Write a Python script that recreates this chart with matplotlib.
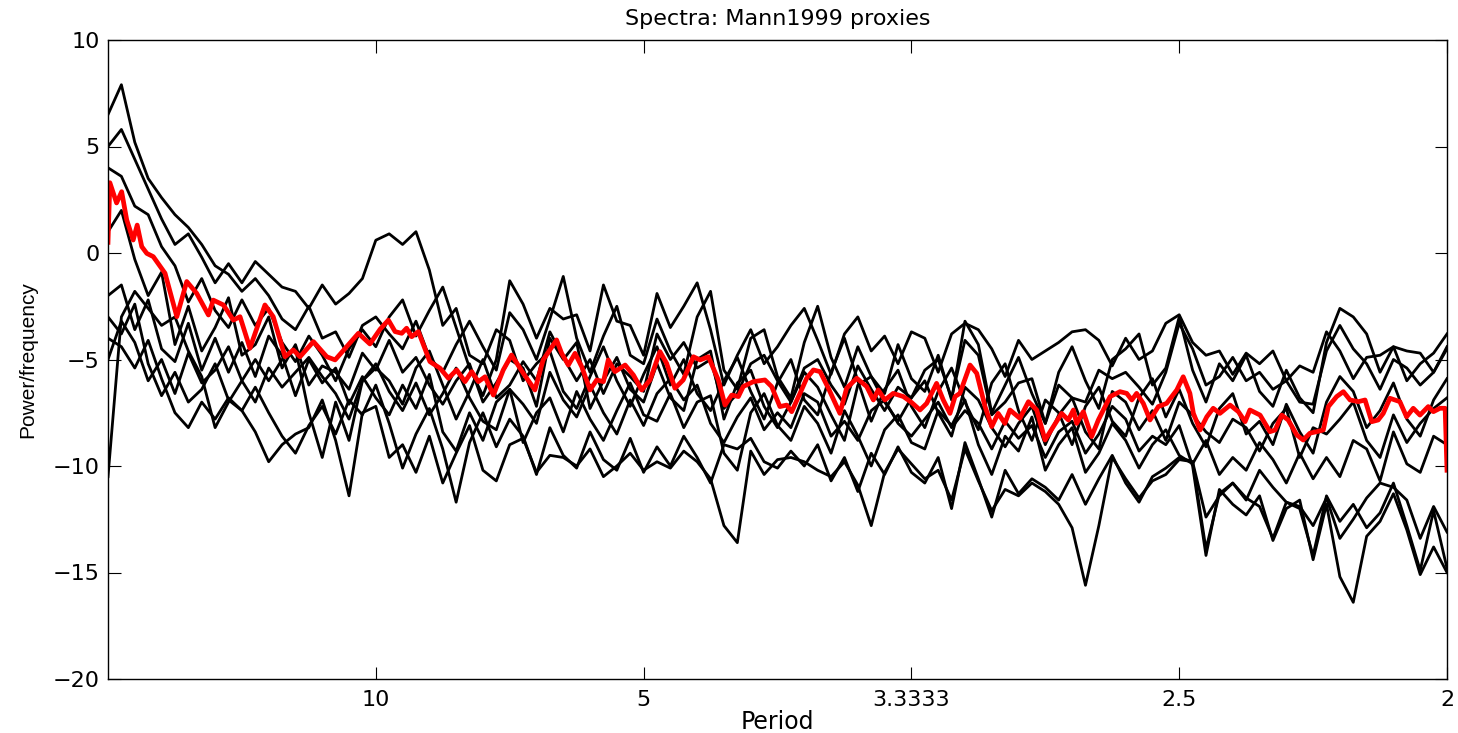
import numpy as np
import matplotlib
matplotlib.use("Agg")
import matplotlib.pyplot as plt

plt.rcParams['font.family'] = ['DejaVu Sans']

# frequency grid of the proxy spectra (cycles/yr), 0 .. 0.5
freq = np.linspace(0.0, 0.5, 101)

# proxy spectra (dB-ish power/frequency)
proxy_a = [6.5, 7.9, 5.2, 3.5, 2.6, 1.8, 1.2, 0.4, -0.6, -1.0, -1.8,
           -1.2, -2.0, -3.1, -3.6, -2.5, -4.0, -3.7, -4.9, -3.4, -3.0,
           -3.8, -4.5, -3.2, -4.9, -5.6, -4.3, -3.2, -4.4, -5.5, -2.8,
           -3.6, -5.0, -3.1, -1.1, -4.0, -5.6, -3.9, -2.5, -4.8, -5.2,
           -3.1, -4.6, -5.7, -3.0, -1.8, -5.5, -6.4, -4.0, -3.6, -5.8,
           -6.8, -4.2, -2.5, -4.9, -6.3, -4.4, -5.8, -6.6, -4.3, -5.9,
           -6.5, -4.8, -6.9, -3.2, -4.3, -7.5, -6.2, -4.9, -6.6, -8.0,
           -5.6, -4.4, -6.0, -7.3, -5.0, -4.5, -3.8, -6.2, -5.4, -3.0,
           -5.5, -7.0, -5.2, -6.0, -4.8, -6.5, -7.2, -5.5, -6.8, -7.5,
           -4.2, -2.6, -3.0, -3.8, -5.6, -4.4, -6.0, -5.2, -4.7, -3.8]
proxy_b = [5.0, 5.8, 4.4, 3.0, 1.6, 0.4, 0.9, -0.2, -1.4, -0.5, -1.4,
           -0.4, -1.0, -1.6, -1.8, -2.6, -1.5, -2.4, -1.9, -1.2, 0.6,
           0.9, 0.4, 1.0, -0.8, -3.4, -2.6, -4.8, -5.2, -3.6, -4.1,
           -6.0, -5.2, -4.6, -6.5, -7.3, -5.8, -4.4, -6.0, -7.2, -5.7,
           -4.4, -6.2, -5.0, -6.6, -7.4, -6.0, -4.9, -6.5, -7.8, -6.1,
           -5.0, -6.9, -7.6, -5.6, -4.0, -6.0, -7.9, -6.4, -5.5, -7.2,
           -8.2, -6.5, -5.4, -7.0, -8.3, -6.1, -5.2, -7.4, -8.8, -6.9,
           -7.5, -9.0, -7.2, -6.3, -7.9, -8.6, -6.8, -5.9, -7.7, -6.4,
           -8.0, -9.1, -7.3, -6.6, -8.5, -7.9, -9.0, -7.1, -8.4, -9.4,
           -7.0, -5.8, -6.5, -8.2, -7.4, -6.1, -7.8, -8.6, -6.9, -5.9]
proxy_c = [4.0, 3.6, 2.2, 1.8, 0.3, -0.6, -2.3, -1.2, -2.7, -3.5, -2.2,
           -3.4, -2.6, -4.2, -5.1, -3.9, -4.8, -6.0, -4.5, -3.6, -4.4,
           -3.0, -2.2, -3.9, -2.7, -1.6, -3.5, -5.4, -6.7, -5.0, -1.3,
           -2.4, -4.0, -2.6, -3.1, -2.9, -4.6, -1.5, -3.2, -3.4, -4.8,
           -1.9, -3.5, -2.5, -1.4, -3.6, -6.2, -4.8, -3.6, -5.2, -4.4,
           -3.4, -2.6, -4.1, -5.7, -3.8, -3.0, -4.6, -3.9, -5.2, -3.7,
           -4.0, -5.6, -3.8, -3.3, -3.6, -4.5, -5.8, -4.1, -5.0, -4.6,
           -4.2, -3.7, -3.6, -4.1, -5.3, -4.0, -5.0, -4.6, -3.3, -2.9,
           -4.2, -4.8, -4.6, -5.7, -4.7, -5.2, -4.6, -6.0, -5.3, -5.6,
           -3.7, -4.6, -5.9, -4.9, -4.8, -4.4, -4.6, -4.7, -5.6, -4.5]
proxy_d = [1.0, 2.0, -0.3, -2.0, -0.9, -4.3, -2.5, -4.6, -3.5, -2.1, -4.8,
           -4.3, -3.0, -5.4, -4.3, -6.2, -5.3, -5.6, -6.4, -4.7, -5.5,
           -4.1, -5.6, -4.9, -6.2, -7.1, -6.0, -5.2, -7.0, -6.1, -5.0,
           -5.4, -7.2, -4.0, -5.0, -4.2, -7.3, -6.0, -4.9, -6.4, -7.0,
           -5.2, -6.8, -7.4, -5.0, -4.6, -7.8, -6.1, -5.5, -7.2, -8.2,
           -7.0, -5.6, -6.3, -7.6, -8.8, -6.2, -5.8, -7.0, -7.9, -6.8,
           -6.0, -7.5, -8.6, -6.3, -6.9, -8.2, -9.1, -8.0, -7.2, -9.0,
           -7.6, -6.8, -8.4, -9.2, -6.5, -7.0, -8.3, -7.4, -8.8, -7.0,
           -7.6, -8.4, -8.9, -7.8, -8.2, -9.3, -8.0, -7.3, -9.6, -8.2,
           -8.5, -7.8, -7.0, -8.8, -9.6, -7.6, -8.9, -8.0, -7.3, -6.8]
proxy_e = [-2.0, -1.5, -3.6, -2.2, -4.5, -5.1, -3.3, -5.5, -4.0, -5.6, -4.2,
           -5.8, -3.9, -4.8, -6.7, -5.0, -6.1, -5.4, -7.1, -5.8, -6.8,
           -7.6, -6.2, -7.3, -5.7, -8.4, -9.3, -7.5, -8.8, -7.0, -6.4,
           -8.9, -7.5, -6.8, -8.4, -6.5, -7.8, -8.8, -7.4, -6.1, -7.6,
           -7.9, -6.6, -8.2, -7.0, -6.7, -9.4, -10.2, -7.5, -6.6, -8.1,
           -8.8, -7.2, -8.0, -9.4, -7.4, -8.6, -10.0, -8.3, -7.6, -8.9,
           -9.2, -7.4, -8.1, -6.9, -9.0, -10.4, -8.6, -9.3, -7.7, -10.2,
           -9.0, -8.2, -10.3, -9.4, -8.0, -8.8, -10.1, -9.0, -8.3, -9.5,
           -9.9, -8.8, -10.4, -9.6, -10.2, -8.9, -9.7, -10.8, -9.4, -10.6,
           -9.6, -10.5, -8.8, -9.2, -10.7, -8.4, -9.9, -10.3, -8.6, -9.0]
proxy_f = [-3.0, -3.8, -2.4, -5.2, -6.7, -5.6, -7.0, -6.4, -5.2, -6.9, -7.4,
           -6.3, -7.5, -8.6, -9.4, -8.1, -7.2, -8.5, -6.9, -7.6, -6.2,
           -8.0, -10.1, -8.5, -7.3, -9.2, -11.7, -8.9, -7.5, -9.1, -7.8,
           -8.6, -10.4, -8.2, -9.5, -10.1, -8.4, -9.7, -10.2, -8.7, -10.3,
           -9.1, -10.0, -8.6, -9.6, -10.8, -9.0, -9.2, -8.7, -9.8, -10.1,
           -9.3, -10.0, -9.0, -10.7, -9.6, -11.2, -9.4, -10.4, -9.1, -10.3,
           -10.8, -9.6, -12.0, -8.9, -10.6, -12.4, -10.2, -11.3, -10.6, -11.0,
           -11.6, -10.4, -11.8, -10.6, -9.5, -10.8, -11.7, -10.5, -10.1, -9.6,
           -9.8, -13.9, -11.3, -10.8, -11.5, -11.9, -13.4, -11.7, -12.0, -14.2,
           -11.4, -12.6, -11.8, -12.9, -12.2, -10.8, -12.8, -14.9, -12.1, -14.8]
proxy_g = [-4.0, -4.4, -5.4, -4.1, -5.9, -7.5, -8.2, -7.0, -7.8, -6.8, -7.4,
           -8.4, -9.8, -9.0, -8.5, -8.2, -6.9, -8.8, -11.4, -7.5, -7.2,
           -9.6, -9.0, -10.3, -8.6, -10.8, -9.4, -8.1, -10.2, -10.7, -9.0,
           -8.7, -10.3, -9.5, -9.6, -10.0, -9.2, -10.5, -10.0, -9.4, -10.2,
           -9.8, -10.1, -9.3, -9.8, -10.6, -12.8, -13.6, -9.3, -10.4, -9.7,
           -9.6, -9.8, -10.2, -10.5, -9.8, -10.9, -12.8, -10.3, -9.2, -9.9,
           -10.6, -10.2, -11.6, -9.2, -10.7, -12.1, -11.1, -11.4, -10.8, -11.2,
           -11.8, -12.9, -15.6, -12.8, -9.6, -10.6, -11.5, -10.7, -10.4, -9.7,
           -9.8, -12.4, -11.4, -10.8, -11.6, -10.2, -11.0, -11.7, -11.9, -12.8,
           -11.5, -13.4, -12.5, -11.5, -10.8, -11.0, -11.6, -13.4, -11.9, -13.1]
proxy_h = [-5.0, -3.2, -4.2, -6.0, -5.0, -6.6, -4.7, -6.1, -5.5, -4.4, -6.0,
           -7.0, -5.4, -6.3, -5.6, -4.9, -5.8, -6.6, -7.8, -6.0, -5.2,
           -6.5, -7.4, -6.1, -7.6, -6.6, -5.4, -6.8, -7.9, -8.3, -6.4,
           -7.1, -8.0, -5.6, -6.9, -7.7, -6.2, -7.5, -8.5, -6.9, -8.1,
           -6.6, -5.9, -6.9, -6.2, -8.0, -8.9, -7.7, -6.8, -8.3, -7.5,
           -8.2, -6.6, -7.0, -8.6, -7.9, -8.8, -7.4, -6.9, -8.0, -8.6,
           -7.8, -7.0, -8.2, -7.4, -8.0, -9.2, -7.9, -8.7, -8.1, -9.6,
           -8.4, -7.9, -9.4, -8.5, -7.2, -7.8, -9.3, -8.6, -9.0, -8.1,
           -10.0, -14.2, -11.1, -11.8, -12.3, -11.4, -13.5, -12.0, -11.6, -14.4,
           -11.8, -15.2, -16.4, -13.3, -12.6, -11.3, -13.0, -15.1, -13.8, -15.0]
proxy_i = [-10.5, -3.0, -1.8, -2.6, -3.4, -3.0, -4.6, -5.8, -8.2, -7.0, -6.0,
           -5.0, -6.0, -5.0, -4.5, -7.5, -9.6, -7.0, -8.8, -6.0, -5.4,
           -6.0, -7.1, -5.4, -4.6, -6.2, -7.8, -6.5, -5.0, -6.8, -6.2,
           -5.1, -6.0, -3.7, -4.9, -6.0, -5.0, -6.6, -5.2, -5.8, -6.5,
           -3.8, -5.0, -4.2, -5.4, -5.0, -7.3, -6.6, -5.2, -4.8, -6.0,
           -7.0, -5.4, -5.0, -6.2, -7.1, -5.3, -6.4, -7.4, -6.3, -6.8,
           -5.5, -5.0, -6.8, -4.1, -4.8, -7.6, -7.0, -6.1, -5.9, -8.0,
           -6.2, -6.8, -7.0, -5.5, -5.9, -5.6, -6.3, -7.1, -5.6, -3.3,
           -4.5, -6.2, -5.8, -4.9, -6.0, -5.6, -6.4, -6.0, -7.0, -7.1,
           -4.6, -3.4, -4.5, -5.2, -6.4, -5.0, -5.4, -6.2, -5.6, -4.4]
proxies = [proxy_a, proxy_b, proxy_c, proxy_d, proxy_e,
           proxy_f, proxy_g, proxy_h, proxy_i]

# mean spectrum (red), traced
red_freq = [0, 0.0007, 0.0032, 0.0051, 0.0070, 0.0094, 0.0109, 0.0126, 0.0145, 0.0169,
            0.0213, 0.0257, 0.0294, 0.0331, 0.0375, 0.0393, 0.0431, 0.0468, 0.0493, 0.0530,
            0.0586, 0.0617, 0.0661, 0.0692, 0.0717, 0.0767, 0.0817, 0.0848, 0.0891, 0.0935,
            0.0978,
            0.1016, 0.1047, 0.1072, 0.1097, 0.1115, 0.1134, 0.1159, 0.1202, 0.1240, 0.1271,
            0.1302, 0.1333, 0.1358, 0.1383, 0.1408, 0.1439, 0.1476, 0.1507, 0.1551, 0.1594,
            0.1625, 0.1675, 0.1694, 0.1719, 0.1744, 0.1769, 0.1800, 0.1825, 0.1850, 0.1868,
            0.1893, 0.1931, 0.1962, 0.1993,
            0.2024, 0.2061, 0.2086, 0.2117, 0.2148, 0.2186, 0.2211, 0.2242, 0.2279, 0.2304,
            0.2329, 0.2354, 0.2372, 0.2410, 0.2453, 0.2478, 0.2509, 0.2534, 0.2553, 0.2584,
            0.2609, 0.2634, 0.2659, 0.2690, 0.2733, 0.2758, 0.2796, 0.2833, 0.2858, 0.2876,
            0.2901, 0.2932, 0.2970,
            0.3001, 0.3032, 0.3057, 0.3094, 0.3119, 0.3144, 0.3163, 0.3181, 0.3219, 0.3244,
            0.3275, 0.3300, 0.3324, 0.3349, 0.3368, 0.3405, 0.3437, 0.3468, 0.3499, 0.3530,
            0.3561, 0.3586, 0.3605, 0.3617, 0.3642, 0.3673, 0.3698, 0.3742, 0.3779, 0.3804,
            0.3823, 0.3841, 0.3866, 0.3891, 0.3922, 0.3953, 0.3991, 0.4015, 0.4040,
            0.4053, 0.4078, 0.4103, 0.4127, 0.4152, 0.4190, 0.4221, 0.4246, 0.4264, 0.4302,
            0.4339, 0.4358, 0.4383, 0.4407, 0.4439, 0.4463, 0.4488, 0.4513, 0.4538, 0.4557,
            0.4588, 0.4613, 0.4638, 0.4669, 0.4694, 0.4719, 0.4743, 0.4762, 0.4787, 0.4824,
            0.4849, 0.4874, 0.4899, 0.4930, 0.4949, 0.4974, 0.4993, 0.5]
red_power = [0.5, 3.3, 2.35, 2.88, 1.55, 0.61, 1.31, 0.30, -0.02, -0.17,
             -0.95, -2.99, -1.34, -1.89, -2.91, -2.21, -2.44, -3.15, -2.99, -4.47,
             -2.44, -2.99, -4.87, -4.55, -4.87, -4.16, -4.87, -5.02, -4.40, -3.77,
             -4.27,
             -3.58, -3.15, -3.69, -3.77, -3.53, -3.93, -3.69, -5.10, -5.41, -5.88,
             -5.49, -6.04, -5.57, -6.04, -5.81, -6.67, -5.49, -4.79, -5.65, -6.43,
             -5.02, -4.08, -4.71, -5.26, -4.71, -5.34, -6.43, -5.96, -6.04, -5.02,
             -5.57, -5.26, -5.73, -6.43,
             -5.96, -4.63, -5.18, -6.35, -5.96, -4.87, -5.02, -4.87, -5.96, -7.14,
             -6.67, -6.74, -6.27, -6.04, -5.96, -6.27, -7.21, -7.14, -7.45, -6.59,
             -5.88, -5.49, -5.57, -6.35, -7.53, -6.35, -5.88, -6.27, -6.90, -6.43,
             -6.90, -6.59, -6.74,
             -7.02, -7.37, -7.06, -6.12, -6.90, -7.53, -6.74, -6.59, -5.26, -5.65,
             -7.21, -8.15, -7.53, -8.00, -7.37, -7.76, -6.98, -7.37, -8.78, -8.15,
             -7.53, -7.84, -7.37, -8.00, -7.45, -8.62, -7.84, -6.74, -6.51, -6.59,
             -6.90, -6.59, -7.06, -7.84, -7.21, -7.06, -6.43, -5.81, -6.59,
             -7.53, -8.31, -7.69, -7.29, -7.53, -7.14, -7.45, -7.92, -7.37, -7.61,
             -8.39, -8.31, -7.61, -7.84, -8.54, -8.78, -8.46, -8.39, -8.31, -7.21,
             -6.74, -6.51, -6.90, -6.98, -6.90, -7.92, -7.84, -7.53, -6.82, -6.98,
             -7.69, -7.29, -7.61, -7.21, -7.45, -7.29, -7.29, -10.2]

# x ticks are frequencies, labelled as periods
tick_freq = [0.1, 0.2, 0.3, 0.4, 0.5]
tick_labels = ['10', '5', '3.3333', '2.5', '2']
y_ticks = [-20, -15, -10, -5, 0, 5, 10]

fig = plt.figure(figsize=(14.58, 7.33), dpi=100)
ax = fig.add_axes([108 / 1458, 54 / 733, 1339 / 1458, 639 / 733])

for p in proxies:
    ax.plot(freq, p, color='black', linewidth=2.0)
ax.plot(red_freq, red_power, color='red', linewidth=3.4)

ax.set_xlim(0, 0.5)
ax.set_ylim(-20, 10)
ax.set_xticks(tick_freq)
ax.set_xticklabels(tick_labels)
ax.set_yticks(y_ticks)
ax.tick_params(direction='in', top=True, right=True, length=9, width=0.8,
               labelsize=16)
ax.tick_params(axis='x', pad=8)
ax.tick_params(axis='y', pad=6)
for s in ax.spines.values():
    s.set_linewidth(1.0)

ax.set_title('Spectra: Mann1999 proxies', fontsize=16, pad=11)
ax.set_xlabel('Period', fontsize=17, labelpad=0)
ax.set_ylabel('Power/frequency', fontsize=15, family=['Liberation Sans'])
ax.yaxis.set_label_coords(-0.053, 0.5)

fig.savefig('out.png', dpi=100)
